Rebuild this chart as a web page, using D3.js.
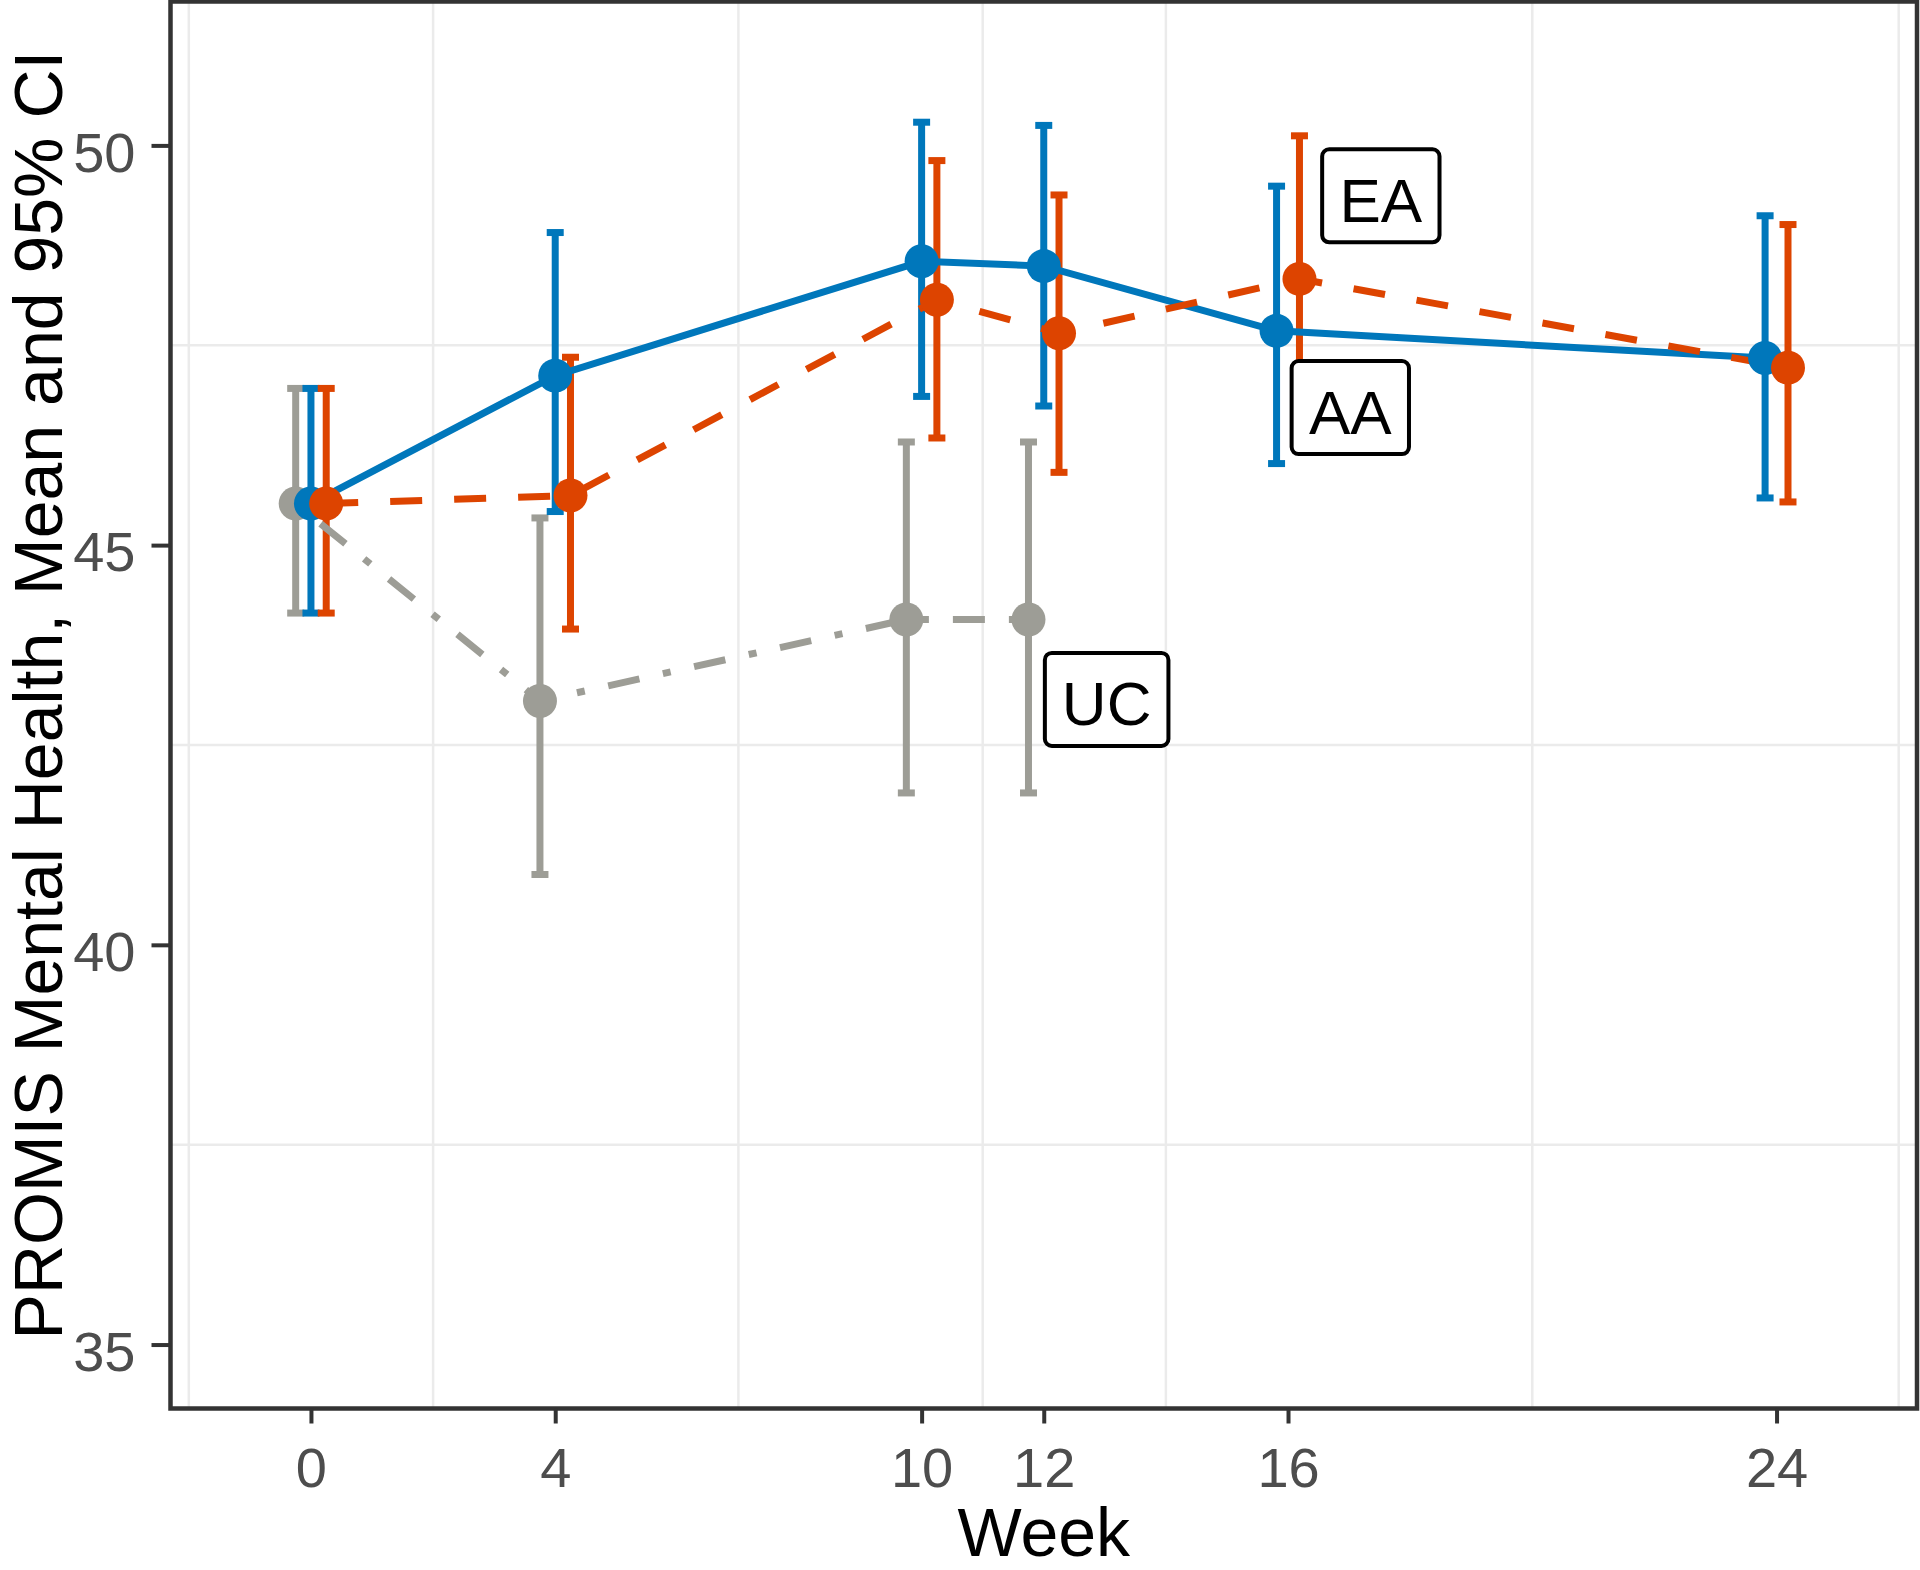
<!DOCTYPE html>
<html><head><meta charset="utf-8">
<script src="https://cdn.jsdelivr.net/npm/d3@7"></script>
<style>body{margin:0;background:#fff}</style>
</head><body>
<svg id="c" width="1920" height="1570"></svg>
<script>
// ---- data ----
const groupNames = ["UC", "AA", "EA"];
const groupColors = ["#9D9D96", "#0077BB", "#DD4400"];
const groupDash = ["8,24,32,24", null, "32,32"];

const ucWeeks = [0, 4, 10, 12];
const ucMean  = [45.52, 43.05, 44.07, 44.07];
const ucLow   = [44.15, 40.88, 41.90, 41.90];
const ucHigh  = [46.96, 45.34, 46.29, 46.29];

const aaWeeks = [0, 4, 10, 12, 16, 24];
const aaMean  = [45.52, 47.12, 48.55, 48.49, 47.68, 47.34];
const aaLow   = [44.15, 45.42, 46.86, 46.74, 46.02, 45.59];
const aaHigh  = [46.96, 48.91, 50.29, 50.25, 49.49, 49.12];

const eaWeeks = [0, 4, 10, 12, 16, 24];
const eaMean  = [45.52, 45.62, 48.07, 47.65, 48.33, 47.22];
const eaLow   = [44.15, 43.95, 46.34, 45.91, 46.55, 45.54];
const eaHigh  = [46.96, 47.35, 49.81, 49.38, 50.12, 49.01];

const xTicks = [0, 4, 10, 12, 16, 24];
const yTicks = [35, 40, 45, 50];
const xMinor = [-2, 2, 7, 11, 14, 20, 26];
const yMinor = [37.5, 42.5, 47.5];

const labelText  = ["EA", "AA", "UC"];
const labelWeek  = [17.52, 17.02, 13.03];
const labelValue = [49.37, 46.72, 43.07];

const xTitle = "Week";
const yTitle = "PROMIS Mental Health, Mean and 95% CI";

// ---- build ----
const seriesRaw = [
  {w: ucWeeks, m: ucMean, lo: ucLow, hi: ucHigh},
  {w: aaWeeks, m: aaMean, lo: aaLow, hi: aaHigh},
  {w: eaWeeks, m: eaMean, lo: eaLow, hi: eaHigh}
];
const dodgeWidth = 0.75;
const presence = {};
seriesRaw.forEach((s, gi) => s.w.forEach(w => { (presence[w] = presence[w] || []).push(gi); }));
const series = seriesRaw.map((s, gi) => ({
  name: groupNames[gi], color: groupColors[gi], dash: groupDash[gi],
  pts: s.w.map((w, i) => {
    const present = presence[w];
    const n = present.length, k = present.indexOf(gi);
    const off = -dodgeWidth / 2 + dodgeWidth / n * (k + 0.5);
    return {x: w + off, m: s.m[i], lo: s.lo[i], hi: s.hi[i]};
  })
}));

const FONT = "'Liberation Sans', Arial, Helvetica, sans-serif";
const svg = d3.select("#c");
const L = 170.5, R = 1917, T = 1.5, B = 1408.5;
const x = d3.scaleLinear().domain([-2.3, 26.3]).range([L, R]);
const y = d3.scaleLinear().domain([34.2, 51.8]).range([B, T]);

// grid (minor only)
svg.append("g").selectAll("line").data(yMinor).join("line")
  .attr("x1", L).attr("x2", R).attr("y1", d => y(d)).attr("y2", d => y(d))
  .attr("stroke", "#EBEBEB").attr("stroke-width", 2.5);
svg.append("g").selectAll("line").data(xMinor).join("line")
  .attr("y1", T).attr("y2", B).attr("x1", d => x(d)).attr("x2", d => x(d))
  .attr("stroke", "#EBEBEB").attr("stroke-width", 2.5);

// error bars
const capHalf = 8.5;
series.forEach(s => {
  const g = svg.append("g").attr("stroke", s.color).attr("stroke-width", 7).attr("fill", "none");
  g.selectAll("line.v").data(s.pts).join("line").attr("class", "v")
    .attr("x1", d => x(d.x)).attr("x2", d => x(d.x))
    .attr("y1", d => y(d.lo)).attr("y2", d => y(d.hi));
  g.selectAll("line.t").data(s.pts).join("line").attr("class", "t")
    .attr("x1", d => x(d.x) - capHalf).attr("x2", d => x(d.x) + capHalf)
    .attr("y1", d => y(d.hi)).attr("y2", d => y(d.hi));
  g.selectAll("line.b").data(s.pts).join("line").attr("class", "b")
    .attr("x1", d => x(d.x) - capHalf).attr("x2", d => x(d.x) + capHalf)
    .attr("y1", d => y(d.lo)).attr("y2", d => y(d.lo));
});

// lines
const line = d3.line().x(d => x(d.x)).y(d => y(d.m));
series.forEach(s => {
  svg.append("path").datum(s.pts).attr("d", line)
    .attr("fill", "none").attr("stroke", s.color).attr("stroke-width", 7)
    .attr("stroke-dasharray", s.dash);
});

// points
series.forEach(s => {
  svg.append("g").selectAll("circle").data(s.pts).join("circle")
    .attr("cx", d => x(d.x)).attr("cy", d => y(d.m)).attr("r", 17)
    .attr("fill", s.color);
});

// panel border
svg.append("rect").attr("x", L).attr("y", T).attr("width", R - L).attr("height", B - T)
  .attr("fill", "none").attr("stroke", "#333333").attr("stroke-width", 4.5);

// axes
const yAxis = d3.axisLeft(y).tickValues(yTicks).tickSize(19).tickPadding(16).tickFormat(d3.format("d"));
const gy = svg.append("g").attr("transform", `translate(${L},0)`).call(yAxis);
const xAxis = d3.axisBottom(x).tickValues(xTicks).tickSize(15).tickPadding(24).tickFormat(d3.format("d"));
const gx = svg.append("g").attr("transform", `translate(0,${B})`).call(xAxis);
[gx, gy].forEach(g => {
  g.select(".domain").remove();
  g.selectAll(".tick line").attr("stroke", "#333333").attr("stroke-width", 4);
  g.selectAll(".tick text").attr("fill", "#4D4D4D").attr("font-family", FONT).attr("font-size", 56);
});
gy.selectAll(".tick text").attr("dy", "0.46em");

// titles
svg.append("text").attr("x", (L + R) / 2).attr("y", 1556).attr("text-anchor", "middle")
  .attr("font-family", FONT).attr("font-size", 68).attr("fill", "#000").text(xTitle);
svg.append("text").attr("transform", "translate(62,695) rotate(-90)").attr("text-anchor", "middle")
  .attr("font-family", FONT).attr("font-size", 68).attr("fill", "#000").text(yTitle);

// labels
labelText.forEach((t, i) => {
  const cx = x(labelWeek[i]), cy = y(labelValue[i]);
  const g = svg.append("g");
  const rect = g.append("rect");
  const txt = g.append("text").attr("x", cx).attr("y", cy + 26).attr("text-anchor", "middle")
    .attr("font-family", FONT).attr("font-size", 62).attr("fill", "#000").text(t);
  const bb = txt.node().getBBox();
  const w = bb.width + 34, h = 93;
  rect.attr("x", cx - w / 2).attr("y", cy - h / 2).attr("width", w).attr("height", h)
    .attr("rx", 7).attr("fill", "#fff").attr("stroke", "#000").attr("stroke-width", 4);
});
</script>
</body></html>
